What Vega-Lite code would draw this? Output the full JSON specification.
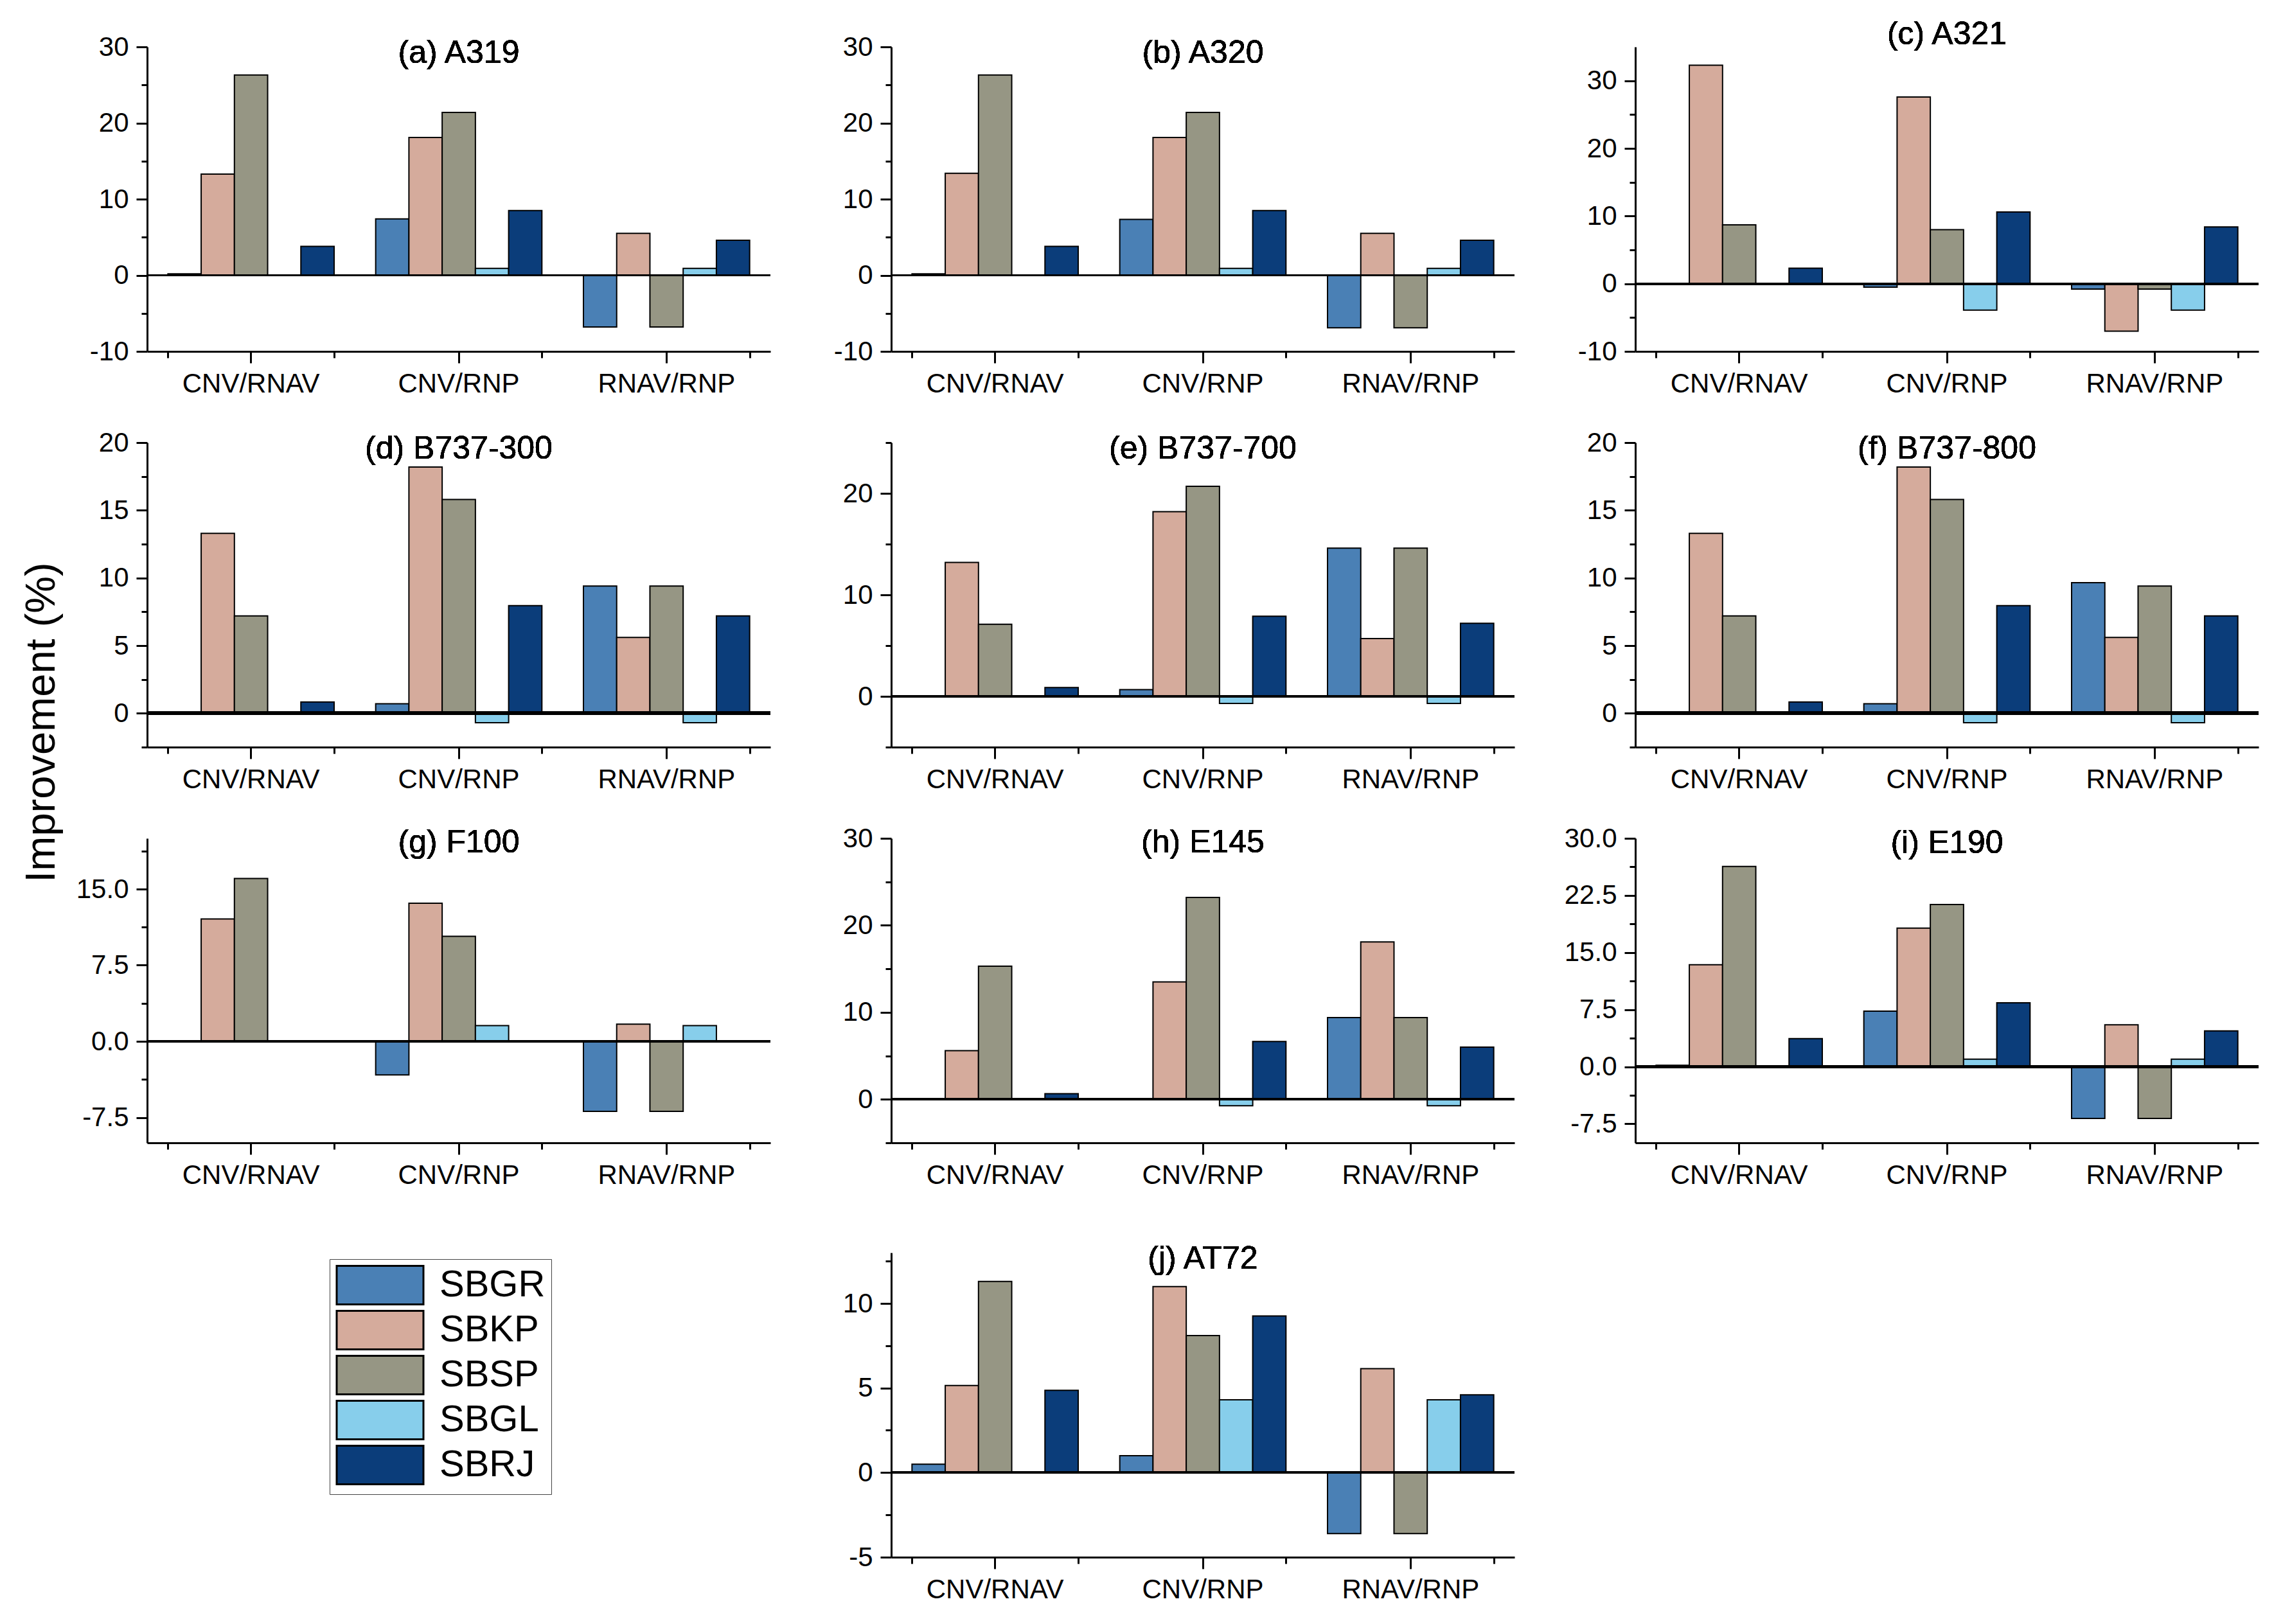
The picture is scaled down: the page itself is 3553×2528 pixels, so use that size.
{
"$schema": "https://vega.github.io/schema/vega-lite/v6.json",
"background": "white",
"padding": {"left": 32, "top": 29, "right": 10, "bottom": 10},
"autosize": {"type": "pad"},
"datasets": {"bars": [
{"panel":"a","cat":"CNV/RNAV","airport":"SBGR","value":0.2},
{"panel":"a","cat":"CNV/RNAV","airport":"SBKP","value":13.3},
{"panel":"a","cat":"CNV/RNAV","airport":"SBSP","value":26.3},
{"panel":"a","cat":"CNV/RNAV","airport":"SBRJ","value":3.8},
{"panel":"a","cat":"CNV/RNP","airport":"SBGR","value":7.4},
{"panel":"a","cat":"CNV/RNP","airport":"SBKP","value":18.1},
{"panel":"a","cat":"CNV/RNP","airport":"SBSP","value":21.4},
{"panel":"a","cat":"CNV/RNP","airport":"SBGL","value":0.9},
{"panel":"a","cat":"CNV/RNP","airport":"SBRJ","value":8.5},
{"panel":"a","cat":"RNAV/RNP","airport":"SBGR","value":-6.8},
{"panel":"a","cat":"RNAV/RNP","airport":"SBKP","value":5.5},
{"panel":"a","cat":"RNAV/RNP","airport":"SBSP","value":-6.8},
{"panel":"a","cat":"RNAV/RNP","airport":"SBGL","value":0.9},
{"panel":"a","cat":"RNAV/RNP","airport":"SBRJ","value":4.6},
{"panel":"b","cat":"CNV/RNAV","airport":"SBGR","value":0.2},
{"panel":"b","cat":"CNV/RNAV","airport":"SBKP","value":13.4},
{"panel":"b","cat":"CNV/RNAV","airport":"SBSP","value":26.3},
{"panel":"b","cat":"CNV/RNAV","airport":"SBRJ","value":3.8},
{"panel":"b","cat":"CNV/RNP","airport":"SBGR","value":7.35},
{"panel":"b","cat":"CNV/RNP","airport":"SBKP","value":18.1},
{"panel":"b","cat":"CNV/RNP","airport":"SBSP","value":21.4},
{"panel":"b","cat":"CNV/RNP","airport":"SBGL","value":0.9},
{"panel":"b","cat":"CNV/RNP","airport":"SBRJ","value":8.5},
{"panel":"b","cat":"RNAV/RNP","airport":"SBGR","value":-6.9},
{"panel":"b","cat":"RNAV/RNP","airport":"SBKP","value":5.5},
{"panel":"b","cat":"RNAV/RNP","airport":"SBSP","value":-6.9},
{"panel":"b","cat":"RNAV/RNP","airport":"SBGL","value":0.9},
{"panel":"b","cat":"RNAV/RNP","airport":"SBRJ","value":4.6},
{"panel":"c","cat":"CNV/RNAV","airport":"SBKP","value":32.3},
{"panel":"c","cat":"CNV/RNAV","airport":"SBSP","value":8.7},
{"panel":"c","cat":"CNV/RNAV","airport":"SBRJ","value":2.3},
{"panel":"c","cat":"CNV/RNP","airport":"SBGR","value":-0.5},
{"panel":"c","cat":"CNV/RNP","airport":"SBKP","value":27.6},
{"panel":"c","cat":"CNV/RNP","airport":"SBSP","value":8.0},
{"panel":"c","cat":"CNV/RNP","airport":"SBGL","value":-3.9},
{"panel":"c","cat":"CNV/RNP","airport":"SBRJ","value":10.6},
{"panel":"c","cat":"RNAV/RNP","airport":"SBGR","value":-0.8},
{"panel":"c","cat":"RNAV/RNP","airport":"SBKP","value":-7.0},
{"panel":"c","cat":"RNAV/RNP","airport":"SBSP","value":-0.8},
{"panel":"c","cat":"RNAV/RNP","airport":"SBGL","value":-3.9},
{"panel":"c","cat":"RNAV/RNP","airport":"SBRJ","value":8.4},
{"panel":"d","cat":"CNV/RNAV","airport":"SBKP","value":13.3},
{"panel":"d","cat":"CNV/RNAV","airport":"SBSP","value":7.2},
{"panel":"d","cat":"CNV/RNAV","airport":"SBRJ","value":0.84},
{"panel":"d","cat":"CNV/RNP","airport":"SBGR","value":0.7},
{"panel":"d","cat":"CNV/RNP","airport":"SBKP","value":18.2},
{"panel":"d","cat":"CNV/RNP","airport":"SBSP","value":15.8},
{"panel":"d","cat":"CNV/RNP","airport":"SBGL","value":-0.7},
{"panel":"d","cat":"CNV/RNP","airport":"SBRJ","value":7.95},
{"panel":"d","cat":"RNAV/RNP","airport":"SBGR","value":9.4},
{"panel":"d","cat":"RNAV/RNP","airport":"SBKP","value":5.6},
{"panel":"d","cat":"RNAV/RNP","airport":"SBSP","value":9.4},
{"panel":"d","cat":"RNAV/RNP","airport":"SBGL","value":-0.7},
{"panel":"d","cat":"RNAV/RNP","airport":"SBRJ","value":7.2},
{"panel":"e","cat":"CNV/RNAV","airport":"SBKP","value":13.2},
{"panel":"e","cat":"CNV/RNAV","airport":"SBSP","value":7.1},
{"panel":"e","cat":"CNV/RNAV","airport":"SBRJ","value":0.87},
{"panel":"e","cat":"CNV/RNP","airport":"SBGR","value":0.67},
{"panel":"e","cat":"CNV/RNP","airport":"SBKP","value":18.2},
{"panel":"e","cat":"CNV/RNP","airport":"SBSP","value":20.7},
{"panel":"e","cat":"CNV/RNP","airport":"SBGL","value":-0.7},
{"panel":"e","cat":"CNV/RNP","airport":"SBRJ","value":7.9},
{"panel":"e","cat":"RNAV/RNP","airport":"SBGR","value":14.6},
{"panel":"e","cat":"RNAV/RNP","airport":"SBKP","value":5.7},
{"panel":"e","cat":"RNAV/RNP","airport":"SBSP","value":14.6},
{"panel":"e","cat":"RNAV/RNP","airport":"SBGL","value":-0.7},
{"panel":"e","cat":"RNAV/RNP","airport":"SBRJ","value":7.2},
{"panel":"f","cat":"CNV/RNAV","airport":"SBKP","value":13.3},
{"panel":"f","cat":"CNV/RNAV","airport":"SBSP","value":7.2},
{"panel":"f","cat":"CNV/RNAV","airport":"SBRJ","value":0.84},
{"panel":"f","cat":"CNV/RNP","airport":"SBGR","value":0.7},
{"panel":"f","cat":"CNV/RNP","airport":"SBKP","value":18.2},
{"panel":"f","cat":"CNV/RNP","airport":"SBSP","value":15.8},
{"panel":"f","cat":"CNV/RNP","airport":"SBGL","value":-0.7},
{"panel":"f","cat":"CNV/RNP","airport":"SBRJ","value":7.95},
{"panel":"f","cat":"RNAV/RNP","airport":"SBGR","value":9.65},
{"panel":"f","cat":"RNAV/RNP","airport":"SBKP","value":5.6},
{"panel":"f","cat":"RNAV/RNP","airport":"SBSP","value":9.4},
{"panel":"f","cat":"RNAV/RNP","airport":"SBGL","value":-0.7},
{"panel":"f","cat":"RNAV/RNP","airport":"SBRJ","value":7.2},
{"panel":"g","cat":"CNV/RNAV","airport":"SBKP","value":12.05},
{"panel":"g","cat":"CNV/RNAV","airport":"SBSP","value":16.05},
{"panel":"g","cat":"CNV/RNP","airport":"SBGR","value":-3.3},
{"panel":"g","cat":"CNV/RNP","airport":"SBKP","value":13.6},
{"panel":"g","cat":"CNV/RNP","airport":"SBSP","value":10.35},
{"panel":"g","cat":"CNV/RNP","airport":"SBGL","value":1.55},
{"panel":"g","cat":"RNAV/RNP","airport":"SBGR","value":-6.9},
{"panel":"g","cat":"RNAV/RNP","airport":"SBKP","value":1.7},
{"panel":"g","cat":"RNAV/RNP","airport":"SBSP","value":-6.9},
{"panel":"g","cat":"RNAV/RNP","airport":"SBGL","value":1.55},
{"panel":"h","cat":"CNV/RNAV","airport":"SBKP","value":5.6},
{"panel":"h","cat":"CNV/RNAV","airport":"SBSP","value":15.3},
{"panel":"h","cat":"CNV/RNAV","airport":"SBRJ","value":0.64},
{"panel":"h","cat":"CNV/RNP","airport":"SBKP","value":13.5},
{"panel":"h","cat":"CNV/RNP","airport":"SBSP","value":23.2},
{"panel":"h","cat":"CNV/RNP","airport":"SBGL","value":-0.73},
{"panel":"h","cat":"CNV/RNP","airport":"SBRJ","value":6.65},
{"panel":"h","cat":"RNAV/RNP","airport":"SBGR","value":9.4},
{"panel":"h","cat":"RNAV/RNP","airport":"SBKP","value":18.1},
{"panel":"h","cat":"RNAV/RNP","airport":"SBSP","value":9.4},
{"panel":"h","cat":"RNAV/RNP","airport":"SBGL","value":-0.73},
{"panel":"h","cat":"RNAV/RNP","airport":"SBRJ","value":6.0},
{"panel":"i","cat":"CNV/RNAV","airport":"SBGR","value":0.2},
{"panel":"i","cat":"CNV/RNAV","airport":"SBKP","value":13.4},
{"panel":"i","cat":"CNV/RNAV","airport":"SBSP","value":26.3},
{"panel":"i","cat":"CNV/RNAV","airport":"SBRJ","value":3.7},
{"panel":"i","cat":"CNV/RNP","airport":"SBGR","value":7.3},
{"panel":"i","cat":"CNV/RNP","airport":"SBKP","value":18.2},
{"panel":"i","cat":"CNV/RNP","airport":"SBSP","value":21.3},
{"panel":"i","cat":"CNV/RNP","airport":"SBGL","value":1.0},
{"panel":"i","cat":"CNV/RNP","airport":"SBRJ","value":8.4},
{"panel":"i","cat":"RNAV/RNP","airport":"SBGR","value":-6.8},
{"panel":"i","cat":"RNAV/RNP","airport":"SBKP","value":5.5},
{"panel":"i","cat":"RNAV/RNP","airport":"SBSP","value":-6.8},
{"panel":"i","cat":"RNAV/RNP","airport":"SBGL","value":1.0},
{"panel":"i","cat":"RNAV/RNP","airport":"SBRJ","value":4.7},
{"panel":"j","cat":"CNV/RNAV","airport":"SBGR","value":0.5},
{"panel":"j","cat":"CNV/RNAV","airport":"SBKP","value":5.15},
{"panel":"j","cat":"CNV/RNAV","airport":"SBSP","value":11.3},
{"panel":"j","cat":"CNV/RNAV","airport":"SBRJ","value":4.86},
{"panel":"j","cat":"CNV/RNP","airport":"SBGR","value":1.0},
{"panel":"j","cat":"CNV/RNP","airport":"SBKP","value":11.0},
{"panel":"j","cat":"CNV/RNP","airport":"SBSP","value":8.1},
{"panel":"j","cat":"CNV/RNP","airport":"SBGL","value":4.3},
{"panel":"j","cat":"CNV/RNP","airport":"SBRJ","value":9.26},
{"panel":"j","cat":"RNAV/RNP","airport":"SBGR","value":-3.6},
{"panel":"j","cat":"RNAV/RNP","airport":"SBKP","value":6.15},
{"panel":"j","cat":"RNAV/RNP","airport":"SBSP","value":-3.6},
{"panel":"j","cat":"RNAV/RNP","airport":"SBGL","value":4.3},
{"panel":"j","cat":"RNAV/RNP","airport":"SBRJ","value":4.6}
]},
"columns": 3,
"spacing": {"row": 142, "column": 188},
"bounds": "flush",
"align": "each",
"concat": [
{"width":970,"height":474,"data":{"name":"bars"},"transform":[{"filter":"datum.panel === 'a'"}],
 "layer":[
  {"mark":{"type":"bar","stroke":"black","strokeWidth":2},
   "encoding":{
    "x":{"field":"cat","type":"nominal","scale":{"paddingInner":0.2,"paddingOuter":0.1},"axis":{"title":null,"orient":"bottom"}},
    "xOffset":{"field":"airport","type":"nominal","sort":["SBGR","SBKP","SBSP","SBGL","SBRJ"],"scale":{"paddingInner":0,"paddingOuter":0}},
    "y":{"field":"value","type":"quantitative","scale":{"domain":[-10,30],"nice":false,"zero":false},
     "axis":{"title":null,"values":[-10,-5,0,5,10,15,20,25,30],"format":"d","labelExpr":"datum.value % 10 === 0 ? replace(datum.label, '−', '-') : ''","tickSize":{"condition":{"test":"datum.value % 10 === 0","value":17},"value":9}}},
    "color":{"field":"airport","type":"nominal","scale":{"domain":["SBGR","SBKP","SBSP","SBGL","SBRJ"],"range":["#4A80B5","#D5AB9C","#969684","#87CEEB","#0B3D7A"]},"legend":null}}},
  {"mark":{"type":"point","opacity":0},
   "encoding":{"x":{"field":"cat","type":"nominal","scale":{"paddingInner":0.2,"paddingOuter":0.1},"axis":{"title":null,"orient":"bottom","tickBand":"extent","labels":false,"domain":false,"tickSize":10}}}},
  {"mark":{"type":"rule","color":"black","strokeWidth":3},"encoding":{"y":{"datum":0}}},
  {"mark":{"type":"text","text":"(a) A319","fontSize":50,"fontWeight":"normal","baseline":"bottom","align":"center","color":"black"},
   "encoding":{"x":{"datum":"CNV/RNP","type":"nominal","axis":null},"y":{"datum":27.05}}}
 ],
 "resolve":{"scale":{"x":"independent"}}},
{"width":970,"height":474,"data":{"name":"bars"},"transform":[{"filter":"datum.panel === 'b'"}],
 "layer":[
  {"mark":{"type":"bar","stroke":"black","strokeWidth":2},
   "encoding":{
    "x":{"field":"cat","type":"nominal","scale":{"paddingInner":0.2,"paddingOuter":0.1},"axis":{"title":null,"orient":"bottom"}},
    "xOffset":{"field":"airport","type":"nominal","sort":["SBGR","SBKP","SBSP","SBGL","SBRJ"],"scale":{"paddingInner":0,"paddingOuter":0}},
    "y":{"field":"value","type":"quantitative","scale":{"domain":[-10,30],"nice":false,"zero":false},
     "axis":{"title":null,"values":[-10,-5,0,5,10,15,20,25,30],"format":"d","labelExpr":"datum.value % 10 === 0 ? replace(datum.label, '−', '-') : ''","tickSize":{"condition":{"test":"datum.value % 10 === 0","value":17},"value":9}}},
    "color":{"field":"airport","type":"nominal","scale":{"domain":["SBGR","SBKP","SBSP","SBGL","SBRJ"],"range":["#4A80B5","#D5AB9C","#969684","#87CEEB","#0B3D7A"]},"legend":null}}},
  {"mark":{"type":"point","opacity":0},
   "encoding":{"x":{"field":"cat","type":"nominal","scale":{"paddingInner":0.2,"paddingOuter":0.1},"axis":{"title":null,"orient":"bottom","tickBand":"extent","labels":false,"domain":false,"tickSize":10}}}},
  {"mark":{"type":"rule","color":"black","strokeWidth":3},"encoding":{"y":{"datum":0}}},
  {"mark":{"type":"text","text":"(b) A320","fontSize":50,"fontWeight":"normal","baseline":"bottom","align":"center","color":"black"},
   "encoding":{"x":{"datum":"CNV/RNP","type":"nominal","axis":null},"y":{"datum":27.05}}}
 ],
 "resolve":{"scale":{"x":"independent"}}},
{"width":970,"height":474,"data":{"name":"bars"},"transform":[{"filter":"datum.panel === 'c'"}],
 "layer":[
  {"mark":{"type":"bar","stroke":"black","strokeWidth":2},
   "encoding":{
    "x":{"field":"cat","type":"nominal","scale":{"paddingInner":0.2,"paddingOuter":0.1},"axis":{"title":null,"orient":"bottom"}},
    "xOffset":{"field":"airport","type":"nominal","sort":["SBGR","SBKP","SBSP","SBGL","SBRJ"],"scale":{"paddingInner":0,"paddingOuter":0}},
    "y":{"field":"value","type":"quantitative","scale":{"domain":[-10,35],"nice":false,"zero":false},
     "axis":{"title":null,"values":[-10,-5,0,5,10,15,20,25,30],"format":"d","labelExpr":"datum.value % 10 === 0 ? replace(datum.label, '−', '-') : ''","tickSize":{"condition":{"test":"datum.value % 10 === 0","value":17},"value":9}}},
    "color":{"field":"airport","type":"nominal","scale":{"domain":["SBGR","SBKP","SBSP","SBGL","SBRJ"],"range":["#4A80B5","#D5AB9C","#969684","#87CEEB","#0B3D7A"]},"legend":null}}},
  {"mark":{"type":"point","opacity":0},
   "encoding":{"x":{"field":"cat","type":"nominal","scale":{"paddingInner":0.2,"paddingOuter":0.1},"axis":{"title":null,"orient":"bottom","tickBand":"extent","labels":false,"domain":false,"tickSize":10}}}},
  {"mark":{"type":"rule","color":"black","strokeWidth":3},"encoding":{"y":{"datum":0}}},
  {"mark":{"type":"text","text":"(c) A321","fontSize":50,"fontWeight":"normal","baseline":"bottom","align":"center","color":"black"},
   "encoding":{"x":{"datum":"CNV/RNP","type":"nominal","axis":null},"y":{"datum":34.43}}}
 ],
 "resolve":{"scale":{"x":"independent"}}},
{"width":970,"height":474,"data":{"name":"bars"},"transform":[{"filter":"datum.panel === 'd'"}],
 "layer":[
  {"mark":{"type":"bar","stroke":"black","strokeWidth":2},
   "encoding":{
    "x":{"field":"cat","type":"nominal","scale":{"paddingInner":0.2,"paddingOuter":0.1},"axis":{"title":null,"orient":"bottom"}},
    "xOffset":{"field":"airport","type":"nominal","sort":["SBGR","SBKP","SBSP","SBGL","SBRJ"],"scale":{"paddingInner":0,"paddingOuter":0}},
    "y":{"field":"value","type":"quantitative","scale":{"domain":[-2.5,20],"nice":false,"zero":false},
     "axis":{"title":"Improvement (%)","titleFontSize":65,"titleFontWeight":"normal","titleX":-165,"titleY":435,"titleAlign":"center","titleBaseline":"middle","titleAngle":-90,"values":[-2.5,0,2.5,5,7.5,10,12.5,15,17.5,20],"format":"d","labelExpr":"datum.value % 5 === 0 ? replace(datum.label, '−', '-') : ''","tickSize":{"condition":{"test":"datum.value % 5 === 0","value":17},"value":9}}},
    "color":{"field":"airport","type":"nominal","scale":{"domain":["SBGR","SBKP","SBSP","SBGL","SBRJ"],"range":["#4A80B5","#D5AB9C","#969684","#87CEEB","#0B3D7A"]},"legend":null}}},
  {"mark":{"type":"point","opacity":0},
   "encoding":{"x":{"field":"cat","type":"nominal","scale":{"paddingInner":0.2,"paddingOuter":0.1},"axis":{"title":null,"orient":"bottom","tickBand":"extent","labels":false,"domain":false,"tickSize":10}}}},
  {"mark":{"type":"rule","color":"black","strokeWidth":5},"encoding":{"y":{"datum":0}}},
  {"mark":{"type":"text","text":"(d) B737-300","fontSize":50,"fontWeight":"normal","baseline":"bottom","align":"center","color":"black"},
   "encoding":{"x":{"datum":"CNV/RNP","type":"nominal","axis":null},"y":{"datum":18.34}}}
 ],
 "resolve":{"scale":{"x":"independent"}}},
{"width":970,"height":474,"data":{"name":"bars"},"transform":[{"filter":"datum.panel === 'e'"}],
 "layer":[
  {"mark":{"type":"bar","stroke":"black","strokeWidth":2},
   "encoding":{
    "x":{"field":"cat","type":"nominal","scale":{"paddingInner":0.2,"paddingOuter":0.1},"axis":{"title":null,"orient":"bottom"}},
    "xOffset":{"field":"airport","type":"nominal","sort":["SBGR","SBKP","SBSP","SBGL","SBRJ"],"scale":{"paddingInner":0,"paddingOuter":0}},
    "y":{"field":"value","type":"quantitative","scale":{"domain":[-5,25],"nice":false,"zero":false},
     "axis":{"title":null,"values":[-5,0,5,10,15,20,25],"format":"d","labelExpr":"datum.value % 10 === 0 ? replace(datum.label, '−', '-') : ''","tickSize":{"condition":{"test":"datum.value % 10 === 0","value":17},"value":9}}},
    "color":{"field":"airport","type":"nominal","scale":{"domain":["SBGR","SBKP","SBSP","SBGL","SBRJ"],"range":["#4A80B5","#D5AB9C","#969684","#87CEEB","#0B3D7A"]},"legend":null}}},
  {"mark":{"type":"point","opacity":0},
   "encoding":{"x":{"field":"cat","type":"nominal","scale":{"paddingInner":0.2,"paddingOuter":0.1},"axis":{"title":null,"orient":"bottom","tickBand":"extent","labels":false,"domain":false,"tickSize":10}}}},
  {"mark":{"type":"rule","color":"black","strokeWidth":3},"encoding":{"y":{"datum":0}}},
  {"mark":{"type":"text","text":"(e) B737-700","fontSize":50,"fontWeight":"normal","baseline":"bottom","align":"center","color":"black"},
   "encoding":{"x":{"datum":"CNV/RNP","type":"nominal","axis":null},"y":{"datum":22.8}}}
 ],
 "resolve":{"scale":{"x":"independent"}}},
{"width":970,"height":474,"data":{"name":"bars"},"transform":[{"filter":"datum.panel === 'f'"}],
 "layer":[
  {"mark":{"type":"bar","stroke":"black","strokeWidth":2},
   "encoding":{
    "x":{"field":"cat","type":"nominal","scale":{"paddingInner":0.2,"paddingOuter":0.1},"axis":{"title":null,"orient":"bottom"}},
    "xOffset":{"field":"airport","type":"nominal","sort":["SBGR","SBKP","SBSP","SBGL","SBRJ"],"scale":{"paddingInner":0,"paddingOuter":0}},
    "y":{"field":"value","type":"quantitative","scale":{"domain":[-2.5,20],"nice":false,"zero":false},
     "axis":{"title":null,"values":[-2.5,0,2.5,5,7.5,10,12.5,15,17.5,20],"format":"d","labelExpr":"datum.value % 5 === 0 ? replace(datum.label, '−', '-') : ''","tickSize":{"condition":{"test":"datum.value % 5 === 0","value":17},"value":9}}},
    "color":{"field":"airport","type":"nominal","scale":{"domain":["SBGR","SBKP","SBSP","SBGL","SBRJ"],"range":["#4A80B5","#D5AB9C","#969684","#87CEEB","#0B3D7A"]},"legend":null}}},
  {"mark":{"type":"point","opacity":0},
   "encoding":{"x":{"field":"cat","type":"nominal","scale":{"paddingInner":0.2,"paddingOuter":0.1},"axis":{"title":null,"orient":"bottom","tickBand":"extent","labels":false,"domain":false,"tickSize":10}}}},
  {"mark":{"type":"rule","color":"black","strokeWidth":5},"encoding":{"y":{"datum":0}}},
  {"mark":{"type":"text","text":"(f) B737-800","fontSize":50,"fontWeight":"normal","baseline":"bottom","align":"center","color":"black"},
   "encoding":{"x":{"datum":"CNV/RNP","type":"nominal","axis":null},"y":{"datum":18.34}}}
 ],
 "resolve":{"scale":{"x":"independent"}}},
{"width":970,"height":474,"data":{"name":"bars"},"transform":[{"filter":"datum.panel === 'g'"}],
 "layer":[
  {"mark":{"type":"bar","stroke":"black","strokeWidth":2},
   "encoding":{
    "x":{"field":"cat","type":"nominal","scale":{"paddingInner":0.2,"paddingOuter":0.1},"axis":{"title":null,"orient":"bottom"}},
    "xOffset":{"field":"airport","type":"nominal","sort":["SBGR","SBKP","SBSP","SBGL","SBRJ"],"scale":{"paddingInner":0,"paddingOuter":0}},
    "y":{"field":"value","type":"quantitative","scale":{"domain":[-10,20],"nice":false,"zero":false},
     "axis":{"title":null,"values":[-7.5,-3.75,0,3.75,7.5,11.25,15,18.75],"format":".1f","labelExpr":"datum.value % 7.5 === 0 ? replace(datum.label, '−', '-') : ''","tickSize":{"condition":{"test":"datum.value % 7.5 === 0","value":17},"value":9}}},
    "color":{"field":"airport","type":"nominal","scale":{"domain":["SBGR","SBKP","SBSP","SBGL","SBRJ"],"range":["#4A80B5","#D5AB9C","#969684","#87CEEB","#0B3D7A"]},"legend":null}}},
  {"mark":{"type":"point","opacity":0},
   "encoding":{"x":{"field":"cat","type":"nominal","scale":{"paddingInner":0.2,"paddingOuter":0.1},"axis":{"title":null,"orient":"bottom","tickBand":"extent","labels":false,"domain":false,"tickSize":10}}}},
  {"mark":{"type":"rule","color":"black","strokeWidth":3},"encoding":{"y":{"datum":0}}},
  {"mark":{"type":"text","text":"(g) F100","fontSize":50,"fontWeight":"normal","baseline":"bottom","align":"center","color":"black"},
   "encoding":{"x":{"datum":"CNV/RNP","type":"nominal","axis":null},"y":{"datum":17.97}}}
 ],
 "resolve":{"scale":{"x":"independent"}}},
{"width":970,"height":474,"data":{"name":"bars"},"transform":[{"filter":"datum.panel === 'h'"}],
 "layer":[
  {"mark":{"type":"bar","stroke":"black","strokeWidth":2},
   "encoding":{
    "x":{"field":"cat","type":"nominal","scale":{"paddingInner":0.2,"paddingOuter":0.1},"axis":{"title":null,"orient":"bottom"}},
    "xOffset":{"field":"airport","type":"nominal","sort":["SBGR","SBKP","SBSP","SBGL","SBRJ"],"scale":{"paddingInner":0,"paddingOuter":0}},
    "y":{"field":"value","type":"quantitative","scale":{"domain":[-5,30],"nice":false,"zero":false},
     "axis":{"title":null,"values":[-5,0,5,10,15,20,25,30],"format":"d","labelExpr":"datum.value % 10 === 0 ? replace(datum.label, '−', '-') : ''","tickSize":{"condition":{"test":"datum.value % 10 === 0","value":17},"value":9}}},
    "color":{"field":"airport","type":"nominal","scale":{"domain":["SBGR","SBKP","SBSP","SBGL","SBRJ"],"range":["#4A80B5","#D5AB9C","#969684","#87CEEB","#0B3D7A"]},"legend":null}}},
  {"mark":{"type":"point","opacity":0},
   "encoding":{"x":{"field":"cat","type":"nominal","scale":{"paddingInner":0.2,"paddingOuter":0.1},"axis":{"title":null,"orient":"bottom","tickBand":"extent","labels":false,"domain":false,"tickSize":10}}}},
  {"mark":{"type":"rule","color":"black","strokeWidth":3},"encoding":{"y":{"datum":0}}},
  {"mark":{"type":"text","text":"(h) E145","fontSize":50,"fontWeight":"normal","baseline":"bottom","align":"center","color":"black"},
   "encoding":{"x":{"datum":"CNV/RNP","type":"nominal","axis":null},"y":{"datum":27.64}}}
 ],
 "resolve":{"scale":{"x":"independent"}}},
{"width":970,"height":474,"data":{"name":"bars"},"transform":[{"filter":"datum.panel === 'i'"}],
 "layer":[
  {"mark":{"type":"bar","stroke":"black","strokeWidth":2},
   "encoding":{
    "x":{"field":"cat","type":"nominal","scale":{"paddingInner":0.2,"paddingOuter":0.1},"axis":{"title":null,"orient":"bottom"}},
    "xOffset":{"field":"airport","type":"nominal","sort":["SBGR","SBKP","SBSP","SBGL","SBRJ"],"scale":{"paddingInner":0,"paddingOuter":0}},
    "y":{"field":"value","type":"quantitative","scale":{"domain":[-10,30],"nice":false,"zero":false},
     "axis":{"title":null,"values":[-7.5,-3.75,0,3.75,7.5,11.25,15,18.75,22.5,26.25,30],"format":".1f","labelExpr":"datum.value % 7.5 === 0 ? replace(datum.label, '−', '-') : ''","tickSize":{"condition":{"test":"datum.value % 7.5 === 0","value":17},"value":9}}},
    "color":{"field":"airport","type":"nominal","scale":{"domain":["SBGR","SBKP","SBSP","SBGL","SBRJ"],"range":["#4A80B5","#D5AB9C","#969684","#87CEEB","#0B3D7A"]},"legend":null}}},
  {"mark":{"type":"point","opacity":0},
   "encoding":{"x":{"field":"cat","type":"nominal","scale":{"paddingInner":0.2,"paddingOuter":0.1},"axis":{"title":null,"orient":"bottom","tickBand":"extent","labels":false,"domain":false,"tickSize":10}}}},
  {"mark":{"type":"rule","color":"black","strokeWidth":5},"encoding":{"y":{"datum":0}}},
  {"mark":{"type":"text","text":"(i) E190","fontSize":50,"fontWeight":"normal","baseline":"bottom","align":"center","color":"black"},
   "encoding":{"x":{"datum":"CNV/RNP","type":"nominal","axis":null},"y":{"datum":27.22}}}
 ],
 "resolve":{"scale":{"x":"independent"}}},
{"width":970,"height":503,"data":{"name":"bars"},"transform":[{"filter":"false"}],
 "mark":{"type":"bar"},
 "encoding":{
  "color":{"field":"airport","type":"nominal","scale":{"domain":["SBGR","SBKP","SBSP","SBGL","SBRJ"],"range":["#4A80B5","#D5AB9C","#969684","#87CEEB","#0B3D7A"]},
   "legend":{"orient":"none","legendX":284,"legendY":39,"title":null,"symbolType":"M-2.25,-1L2.25,-1L2.25,1L-2.25,1Z","symbolSize":3600,"symbolOffset":38,"symbolStrokeColor":"black","symbolStrokeWidth":3,"symbolOpacity":1,"labelFontSize":58,"labelColor":"black","labelLimit":0,"labelOffset":61,"rowPadding":-3,"padding":9,"strokeColor":"#444444"}}}},
{"width":970,"height":503,"data":{"name":"bars"},"transform":[{"filter":"datum.panel === 'j'"}],
 "layer":[
  {"mark":{"type":"bar","stroke":"black","strokeWidth":2},
   "encoding":{
    "x":{"field":"cat","type":"nominal","scale":{"paddingInner":0.2,"paddingOuter":0.1},"axis":{"title":null,"orient":"bottom"}},
    "xOffset":{"field":"airport","type":"nominal","sort":["SBGR","SBKP","SBSP","SBGL","SBRJ"],"scale":{"paddingInner":0,"paddingOuter":0}},
    "y":{"field":"value","type":"quantitative","scale":{"domain":[-5,13],"nice":false,"zero":false,"range":[503,29]},
     "axis":{"title":null,"values":[-5,-2.5,0,2.5,5,7.5,10,12.5],"format":"d","labelExpr":"datum.value % 5 === 0 ? replace(datum.label, '−', '-') : ''","tickSize":{"condition":{"test":"datum.value % 5 === 0","value":17},"value":9}}},
    "color":{"field":"airport","type":"nominal","scale":{"domain":["SBGR","SBKP","SBSP","SBGL","SBRJ"],"range":["#4A80B5","#D5AB9C","#969684","#87CEEB","#0B3D7A"]},"legend":null}}},
  {"mark":{"type":"point","opacity":0},
   "encoding":{"x":{"field":"cat","type":"nominal","scale":{"paddingInner":0.2,"paddingOuter":0.1},"axis":{"title":null,"orient":"bottom","tickBand":"extent","labels":false,"domain":false,"tickSize":10}}}},
  {"mark":{"type":"rule","color":"black","strokeWidth":3},"encoding":{"y":{"datum":0}}},
  {"mark":{"type":"text","text":"(j) AT72","fontSize":50,"fontWeight":"normal","baseline":"bottom","align":"center","color":"black"},
   "encoding":{"x":{"datum":"CNV/RNP","type":"nominal","axis":null},"y":{"datum":11.67}}}
 ],
 "resolve":{"scale":{"x":"independent"}}}
],
"resolve": {"legend": {"color": "independent"}},
"config": {
 "font": "Liberation Sans",
 "view": {"stroke": null},
 "text": {"font": "Liberation Sans", "fontWeight": "normal"},
 "axis": {"grid": false, "labelFont": "Liberation Sans", "labelColor": "black", "labelFontSize": 42, "labelPadding": 12, "labelLimit": 0, "domainColor": "black", "domainWidth": 3, "tickColor": "black", "tickWidth": 3, "titleFont": "Liberation Sans", "titleColor": "black"},
 "axisX": {"tickSize": 18, "labelAngle": 0},
 "legend": {"labelFont": "Liberation Sans"}
}
}
